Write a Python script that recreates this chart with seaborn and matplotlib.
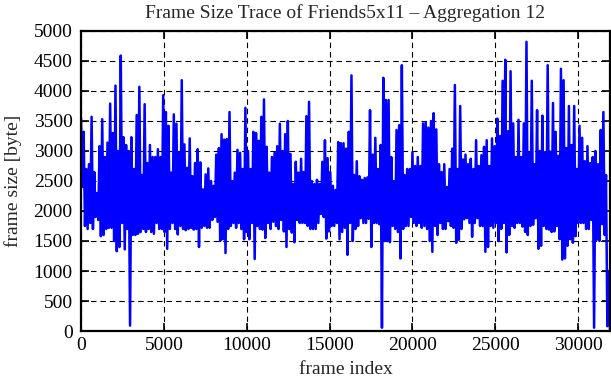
import matplotlib
matplotlib.use("Agg")
import matplotlib.pyplot as plt
import seaborn as sns
import pandas as pd

# Read-off values: per 160-frame bin, the local high and local low of the trace
bin_width = 160
upper = [
    3550, 3320, 2700, 2780, 3570, 2650, 2300, 3080, 3530, 2900,
    3140, 3790, 3300, 4090, 3000, 4590, 3230, 3100, 3000, 3230,
    2700, 3600, 4070, 2600, 3780, 2800, 3100, 2900, 2900, 3030,
    2900, 3930, 3650, 3420, 2640, 3610, 3455, 2970, 4180, 3110,
    2720, 3210, 2580, 2800, 3030, 2810, 2360, 2610, 2710, 2500,
    2420, 2940, 3050, 3280, 3190, 3200, 3650, 2500, 2640, 3020,
    2970, 2700, 3720, 3000, 2700, 3320, 3300, 3170, 3570, 3860,
    3070, 2640, 2900, 2970, 3080, 3455, 3000, 3280, 3500, 2950,
    2450, 2820, 2640, 2870, 2650, 3580, 3820, 2500, 2450, 2520,
    2450, 2820, 3180, 2880, 2650, 2420, 2350, 3150, 3130, 3130,
    3040, 3320, 4260, 2600, 2830, 2580, 2520, 2550, 2560, 3680,
    2940, 3220, 2700, 3100, 4220, 3850, 3850, 2900, 2500, 3350,
    3430, 4430, 2600, 2700, 2700, 2980, 2750, 2900, 2750, 3460,
    3480, 3390, 3500, 3630, 3360, 2780, 2650, 2780, 2400, 2700,
    3040, 4100, 2700, 3750, 2860, 2940, 2780, 2870, 2700, 3180,
    2750, 2930, 3070, 3180, 2750, 3210, 3080, 3540, 3250, 4170,
    4520, 3330, 4330, 3460, 2900, 3520, 2900, 3460, 4820, 2970,
    4170, 2780, 3680, 3000, 3590, 2970, 4430, 2990, 3800, 3320,
    2920, 4370, 4180, 3050, 3750, 3100, 3750, 2700, 3420, 3220,
    2830, 3080, 2800, 2900, 3000, 2780, 3350, 3650, 2600, 1000,
]
lower = [
    2400, 1750, 1700, 1800, 1700, 1900, 1850, 1580, 1600, 1700,
    1720, 1720, 1500, 1330, 1400, 1800, 1360, 1700, 90, 1600,
    1600, 1620, 1650, 1700, 1650, 1700, 1650, 1620, 1800, 1700,
    1700, 1650, 1370, 1700, 1800, 1700, 1610, 1750, 1700, 1680,
    1700, 1720, 1690, 1700, 1400, 1720, 1750, 1720, 1720, 1850,
    1900, 1820, 1500, 1530, 1300, 1700, 1750, 1800, 1720, 1800,
    1700, 1530, 1650, 1530, 1800, 1200, 1750, 1700, 1690, 1550,
    1800, 1700, 1820, 1750, 1700, 1850, 1660, 1400, 1700, 1640,
    1480, 1850, 1800, 1800, 1800, 1750, 1700, 1700, 1700, 1800,
    1950, 1900, 1540, 1660, 1750, 1750, 1800, 1530, 1650, 1720,
    1270, 1800, 1500, 1700, 1750, 1880, 1800, 1800, 1870, 1400,
    1800, 1800, 1780, 55, 1500, 1500, 1480, 1750, 1700, 1650,
    1210, 1700, 1750, 1750, 1900, 1800, 1750, 1800, 1720, 1750,
    1700, 1500, 1320, 1750, 1600, 1800, 1700, 1700, 1830, 1750,
    1720, 1470, 1520, 1700, 1860, 1880, 1800, 1570, 1800, 1880,
    1750, 1750, 1320, 1400, 1750, 1720, 1800, 1500, 1700, 1800,
    1310, 1600, 1750, 1720, 1800, 1800, 1740, 1650, 1600, 1750,
    1770, 1880, 1370, 1420, 1750, 1700, 1690, 1650, 1660, 1750,
    1530, 1190, 1210, 1420, 1530, 1470, 1580, 1800, 1800, 1800,
    1700, 1700, 1850, 55, 1520, 1500, 1780, 1600, 80, 20,
]
x_ticks = [0, 5000, 10000, 15000, 20000, 25000, 30000]
y_ticks = list(range(0, 5001, 500))
title = "Frame Size Trace of Friends5x11 – Aggregation 12"

frames, sizes = [], []
for i, (hi, lo) in enumerate(zip(upper, lower)):
    frames += [i * bin_width, i * bin_width + bin_width // 2]
    sizes += [hi, lo]
df = pd.DataFrame({"frame": frames, "size": sizes})

sns.set_style("ticks")
plt.rcParams["font.family"] = ["Liberation Serif", "DejaVu Serif"]
plt.rcParams["xtick.direction"] = "in"
plt.rcParams["ytick.direction"] = "in"
plt.rcParams["xtick.top"] = True
plt.rcParams["ytick.right"] = True

fig = plt.figure(figsize=(6.11, 3.80), dpi=100)
ax = fig.add_axes([81 / 611, 49 / 380, 529 / 611, 300 / 380])

sns.lineplot(data=df, x="frame", y="size", ax=ax, color="#0000ff",
             linewidth=1.8, sort=False, estimator=None)

ax.set_xlim(0, 31920)
ax.set_ylim(0, 5000)
ax.set_xticks(x_ticks)
ax.set_yticks(y_ticks)
ax.tick_params(axis="both", which="major", labelsize=14, length=6, width=1.2,
               color="black", labelcolor="black")
ax.tick_params(axis="x", pad=4)
ax.tick_params(axis="y", pad=6)
ax.grid(True, color="black", linestyle=(0, (5, 3.5)), linewidth=0.8)
ax.set_axisbelow(True)
for s in ax.spines.values():
    s.set_linewidth(1.6)
    s.set_color("black")

ax.set_xlabel("frame index", fontsize=14)
ax.set_ylabel("frame size [byte]", fontsize=14)
ax.xaxis.set_label_coords(0.5, -0.1)
ax.yaxis.set_label_coords(-0.112, 0.5)
ax.set_title(title, fontsize=14, pad=9)

fig.savefig("out.png", dpi=100)
